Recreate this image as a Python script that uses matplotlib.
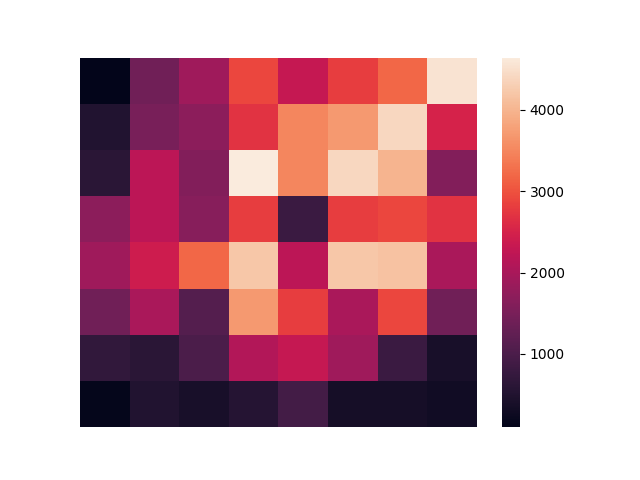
import matplotlib
matplotlib.use("Agg")
import matplotlib.pyplot as plt
import seaborn as sns
import numpy as np

row0 = [100, 1400, 1900, 2900, 2300, 2800, 3200, 4550]
row1 = [500, 1500, 1700, 2700, 3500, 3700, 4400, 2500]
row2 = [600, 2200, 1600, 4640, 3500, 4400, 4000, 1600]
row3 = [1700, 2200, 1650, 2800, 800, 2800, 2900, 2700]
row4 = [1900, 2400, 3200, 4200, 2200, 4200, 4150, 2000]
row5 = [1400, 2000, 1100, 3700, 2800, 2000, 2900, 1400]
row6 = [700, 600, 1000, 2100, 2300, 1900, 800, 400]
row7 = [150, 500, 400, 550, 900, 350, 350, 300]

data = np.array([row0, row1, row2, row3, row4, row5, row6, row7])

fig = plt.figure(figsize=(6.4, 4.8), dpi=100)
sns.heatmap(data, xticklabels=False, yticklabels=False)
plt.savefig("out.png")
